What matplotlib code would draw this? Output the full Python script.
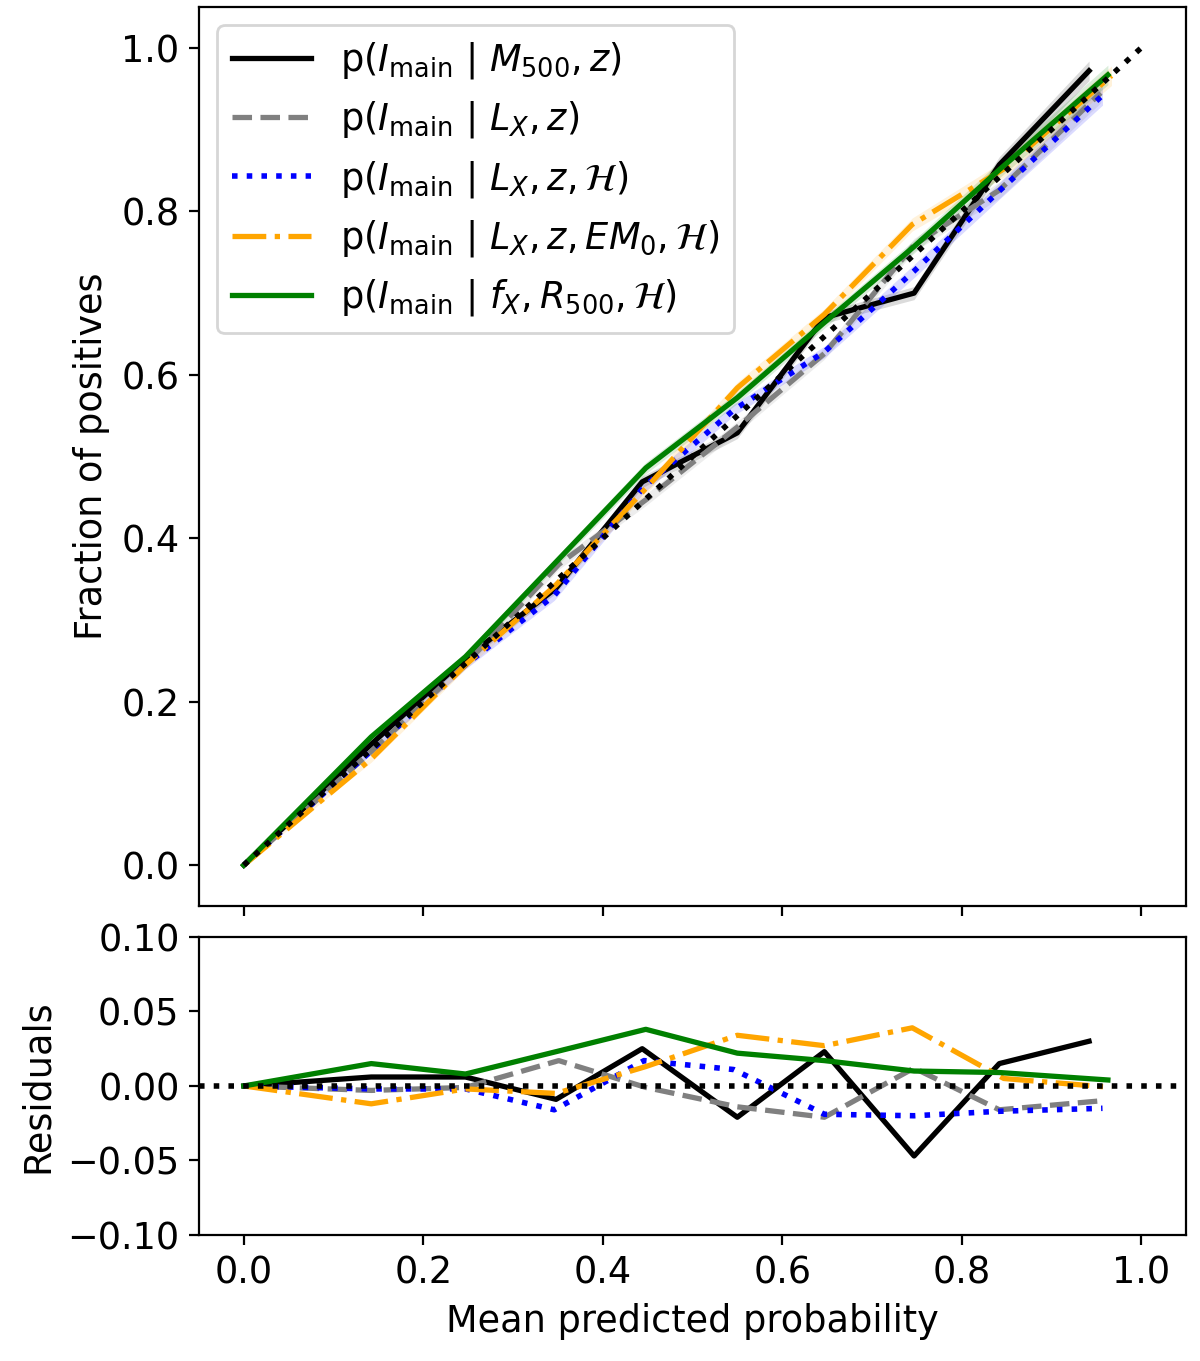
import numpy as np
import matplotlib
matplotlib.use("Agg")
import matplotlib.pyplot as plt

# bin centres (mean predicted probability) and residuals (fraction - predicted)
x_m500 = [0.0, 0.142, 0.247, 0.348, 0.444, 0.550, 0.647, 0.747, 0.842, 0.942]
res_m500 = [0.0, 0.006, 0.006, -0.009, 0.025, -0.021, 0.023, -0.047, 0.015, 0.030]

x_lx = [0.0, 0.142, 0.247, 0.351, 0.448, 0.550, 0.647, 0.747, 0.842, 0.955]
res_lx = [0.0, -0.003, -0.001, 0.017, -0.001, -0.014, -0.021, 0.012, -0.016, -0.010]

x_lx_h = [0.0, 0.142, 0.247, 0.346, 0.446, 0.546, 0.647, 0.747, 0.842, 0.957]
res_lx_h = [0.0, -0.002, -0.002, -0.016, 0.017, 0.011, -0.019, -0.020, -0.017, -0.015]

x_lx_em = [0.0, 0.142, 0.247, 0.348, 0.448, 0.550, 0.647, 0.745, 0.847, 0.967]
res_lx_em = [0.0, -0.012, -0.002, -0.005, 0.013, 0.034, 0.027, 0.039, 0.005, -0.001]

x_fx = [0.0, 0.142, 0.247, 0.348, 0.448, 0.550, 0.647, 0.747, 0.842, 0.963]
res_fx = [0.0, 0.015, 0.008, 0.023, 0.038, 0.022, 0.017, 0.010, 0.009, 0.004]

# half-width of the shaded band per bin (read off roughly)
band = [0.0, 0.004, 0.005, 0.006, 0.007, 0.007, 0.007, 0.008, 0.010, 0.012]

labels = [
    r"p($I_\mathrm{main}$ | $M_{500}, z$)",
    r"p($I_\mathrm{main}$ | $L_X, z$)",
    r"p($I_\mathrm{main}$ | $L_X, z, \mathcal{H}$)",
    r"p($I_\mathrm{main}$ | $L_X, z, EM_0, \mathcal{H}$)",
    r"p($I_\mathrm{main}$ | $f_X, R_{500}, \mathcal{H}$)",
]
colors = ["black", "gray", "blue", "orange", "green"]
styles = ["-", "--", ":", "-.", "-"]

plt.rcParams["font.size"] = 13.2

fig = plt.figure(figsize=(6.0, 6.805), dpi=200)
ax = fig.add_axes([0.1658, 0.3343, 0.8225, 0.6605])
axr = fig.add_axes([0.1658, 0.0926, 0.8225, 0.2190], sharex=ax)

series = [(x_m500, res_m500), (x_lx, res_lx), (x_lx_h, res_lx_h),
          (x_lx_em, res_lx_em), (x_fx, res_fx)]

for (xs, rs), lab, c, ls in zip(series, labels, colors, styles):
    xs = np.array(xs)
    frac = xs + np.array(rs)
    lw = 2.0 if ls == ":" else 1.9
    ax.fill_between(xs, frac - np.array(band), frac + np.array(band),
                    color=c, alpha=0.14, lw=0)
    ax.plot(xs, frac, color=c, ls=ls, lw=lw, label=lab)
    axr.plot(xs, rs, color=c, ls=ls, lw=lw)

# perfect calibration
ax.plot([0, 1], [0, 1], "k:", lw=2, zorder=5)
axr.axhline(0, color="k", ls=":", lw=2, zorder=5)

ax.set_ylabel("Fraction of positives")
ax.tick_params(labelbottom=False)
ax.legend(loc="upper left", handlelength=2.15)

axr.set_ylim(-0.1, 0.1)
axr.set_yticks([-0.1, -0.05, 0.0, 0.05, 0.1])
axr.set_xlabel("Mean predicted probability")
axr.set_ylabel("Residuals")

fig.savefig("out.png", dpi=200)
